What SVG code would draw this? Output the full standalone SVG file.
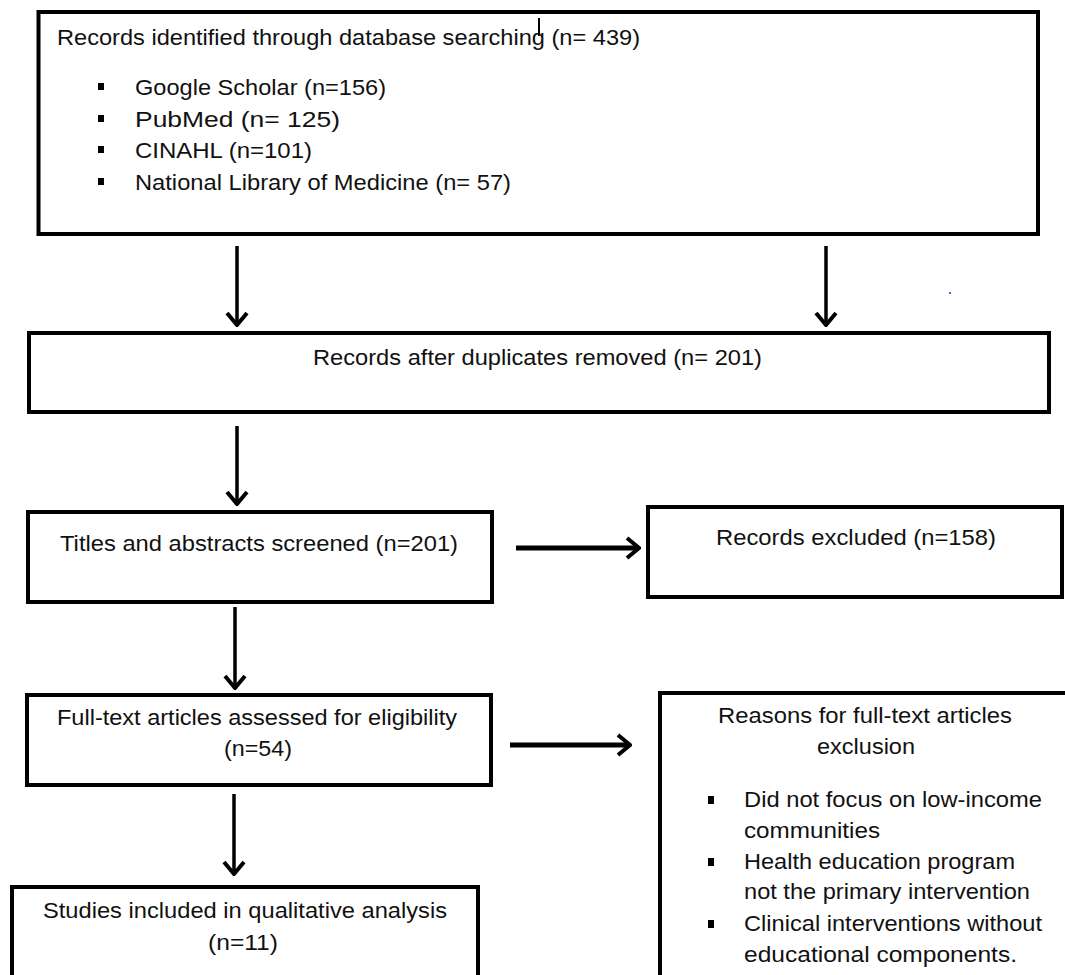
<svg xmlns="http://www.w3.org/2000/svg" width="1065" height="975" viewBox="0 0 1065 975">
<style>
.box{fill:#fff;stroke:#000;stroke-width:4}
.t{font-family:"Liberation Sans",Arial,sans-serif;font-size:22px;fill:#111}
.conn{stroke:#000;stroke-width:3.5;fill:none}
.h{stroke-width:5}
.b{fill:#000}
</style>
<defs>
<marker id="ah" viewBox="0 0 16 24" refX="14" refY="12" markerWidth="16" markerHeight="24" markerUnits="userSpaceOnUse" orient="auto">
<path d="M2,2 L14,12 L2,22" fill="none" stroke="#000" stroke-width="4"/>
</marker>
</defs>
<rect width="1065" height="975" fill="#fff"/>
<g id="connectors">
<line class="conn" x1="237" y1="246" x2="237" y2="325" marker-end="url(#ah)"/>
<line class="conn" x1="826" y1="246" x2="826" y2="325" marker-end="url(#ah)"/>
<line class="conn" x1="237" y1="426" x2="237" y2="504" marker-end="url(#ah)"/>
<line class="conn" x1="235" y1="607" x2="235" y2="688" marker-end="url(#ah)"/>
<line class="conn" x1="234" y1="794" x2="234" y2="874" marker-end="url(#ah)"/>
<line class="conn h" x1="516" y1="548" x2="639" y2="548" marker-end="url(#ah)"/>
<line class="conn h" x1="510" y1="745" x2="630" y2="745" marker-end="url(#ah)"/>
</g>
<g id="identified">
<rect class="box" x="38.5" y="12" width="999.5" height="222"/>
<text class="t" x="57" y="45" textLength="583" lengthAdjust="spacingAndGlyphs">Records identified through database searching (n= 439)</text>
<line x1="539" y1="18" x2="539" y2="36" stroke="#000" stroke-width="2"/>
<rect class="b" x="98" y="83" width="6" height="7"/>
<rect class="b" x="98" y="115" width="6" height="7"/>
<rect class="b" x="98" y="146" width="6" height="7"/>
<rect class="b" x="98" y="178" width="6" height="7"/>
<text class="t" x="135" y="95" textLength="251" lengthAdjust="spacingAndGlyphs">Google Scholar (n=156)</text>
<text class="t" x="135" y="127" textLength="205" lengthAdjust="spacingAndGlyphs">PubMed (n= 125)</text>
<text class="t" x="135" y="158" textLength="177" lengthAdjust="spacingAndGlyphs">CINAHL (n=101)</text>
<text class="t" x="135" y="190" textLength="376" lengthAdjust="spacingAndGlyphs">National Library of Medicine (n= 57)</text>
</g>
<circle cx="950" cy="293" r="1" fill="#2020e0"/>
<g id="duplicates">
<rect class="box" x="29" y="333" width="1020" height="79"/>
<text class="t" x="313" y="365" textLength="449" lengthAdjust="spacingAndGlyphs">Records after duplicates removed (n= 201)</text>
</g>
<g id="screened">
<rect class="box" x="28" y="512" width="464" height="90"/>
<text class="t" x="60" y="551" textLength="398" lengthAdjust="spacingAndGlyphs">Titles and abstracts screened (n=201)</text>
</g>
<g id="excluded">
<rect class="box" x="648" y="507" width="414" height="90"/>
<text class="t" x="716" y="545" textLength="280" lengthAdjust="spacingAndGlyphs">Records excluded (n=158)</text>
</g>
<g id="fulltext">
<rect class="box" x="27" y="695" width="464" height="90"/>
<text class="t" x="57" y="725" textLength="400" lengthAdjust="spacingAndGlyphs">Full-text articles assessed for eligibility</text>
<text class="t" x="224" y="756" textLength="68" lengthAdjust="spacingAndGlyphs">(n=54)</text>
</g>
<g id="reasons">
<rect class="box" x="660" y="693" width="420" height="300"/>
<text class="t" x="718" y="723" textLength="294" lengthAdjust="spacingAndGlyphs">Reasons for full-text articles</text>
<text class="t" x="817" y="754" textLength="98" lengthAdjust="spacingAndGlyphs">exclusion</text>
<rect class="b" x="708" y="796" width="6" height="8"/>
<rect class="b" x="708" y="858" width="6" height="8"/>
<rect class="b" x="708" y="920" width="6" height="8"/>
<text class="t" x="744" y="807" textLength="298" lengthAdjust="spacingAndGlyphs">Did not focus on low-income</text>
<text class="t" x="744" y="838" textLength="136" lengthAdjust="spacingAndGlyphs">communities</text>
<text class="t" x="744" y="869" textLength="271" lengthAdjust="spacingAndGlyphs">Health education program</text>
<text class="t" x="744" y="899" textLength="286" lengthAdjust="spacingAndGlyphs">not the primary intervention</text>
<text class="t" x="744" y="931" textLength="298" lengthAdjust="spacingAndGlyphs">Clinical interventions without</text>
<text class="t" x="744" y="962" textLength="273" lengthAdjust="spacingAndGlyphs">educational components.</text>
</g>
<g id="included">
<rect class="box" x="12" y="887" width="466" height="110"/>
<text class="t" x="43" y="918" textLength="404" lengthAdjust="spacingAndGlyphs">Studies included in qualitative analysis</text>
<text class="t" x="208" y="950" textLength="70" lengthAdjust="spacingAndGlyphs">(n=11)</text>
</g>
</svg>
